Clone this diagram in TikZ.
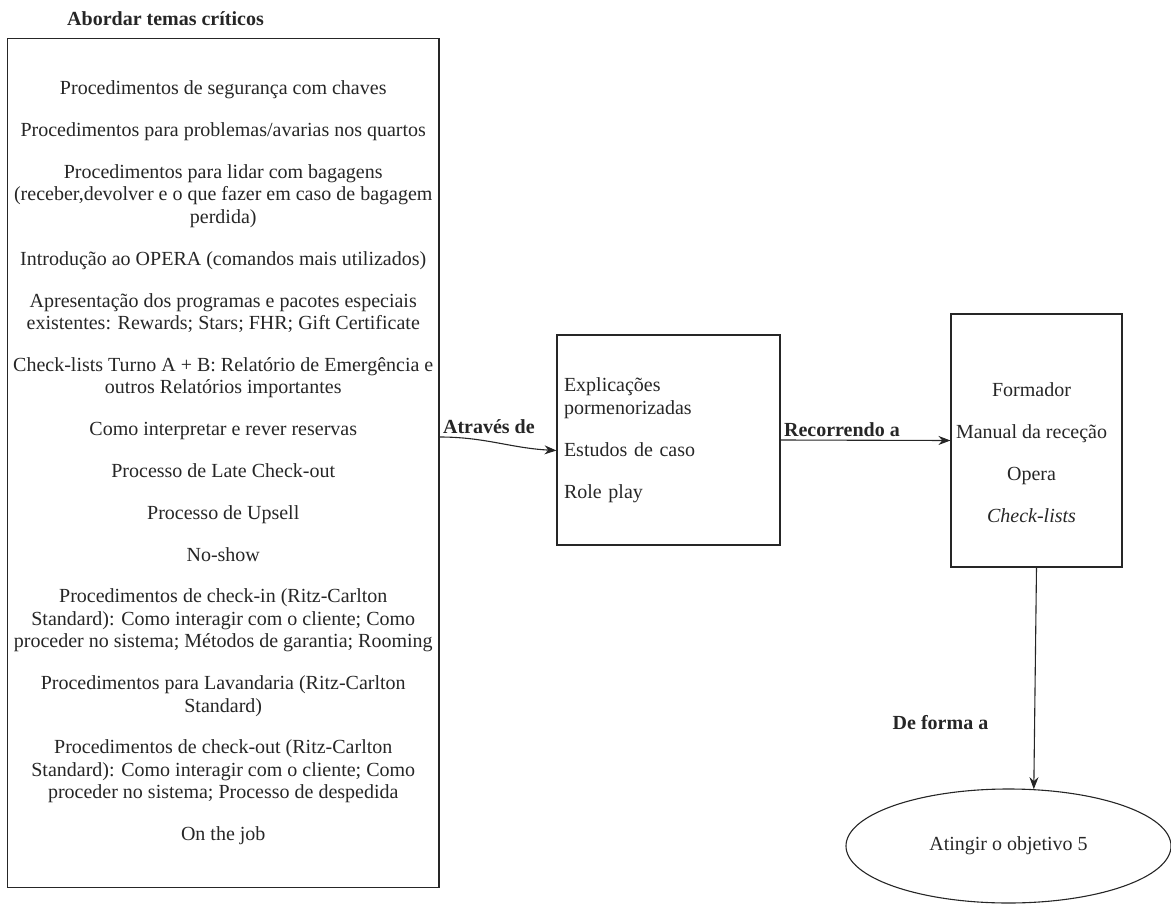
\documentclass[tikz,border=0pt]{standalone}
\usepackage{fontspec}
\setmainfont{Liberation Serif}
\usetikzlibrary{arrows.meta, shapes.geometric, positioning}

\begin{document}
\begin{tikzpicture}[x=1pt, y=-1pt,
  every node/.style={font=\fontsize{20}{22.5}\selectfont, text=black!85},
  box/.style={draw=black!85, line width=1.1pt, inner sep=0pt},
  lbl/.style={font=\fontsize{20}{22.5}\selectfont\bfseries},
  conn/.style={draw=black!85, line width=1.1pt, -{Stealth[length=12pt, width=9pt]}}
]
  \useasboundingbox (0,0) rectangle (1171,905);

  % left box: topics
  \node[lbl] (titulo) at (165.5, 19) {Abordar temas críticos};
  \node[box, minimum width=431.5pt, minimum height=848.5pt, align=center] (temas) at (223.25, 463) {%
    Procedimentos de segurança com chaves\\[19.3pt]
    Procedimentos para problemas/avarias nos quartos\\[19.3pt]
    Procedimentos para lidar com bagagens\\
    (receber,devolver e o que fazer em caso de bagagem\\
    perdida)\\[19.3pt]
    Introdução ao OPERA (comandos mais utilizados)\\[19.3pt]
    Apresentação dos programas e pacotes especiais\\
    existentes: Rewards; Stars; FHR; Gift Certificate\\[19.3pt]
    Check-lists Turno A + B: Relatório de Emergência e\\
    outros Relatórios importantes\\[19.3pt]
    Como interpretar e rever reservas\\[19.3pt]
    Processo de Late Check-out\\[19.3pt]
    Processo de Upsell\\[19.3pt]
    No-show\\[19.3pt]
    Procedimentos de check-in (Ritz-Carlton\\
    Standard): Como interagir com o cliente; Como\\
    proceder no sistema; Métodos de garantia; Rooming\\[19.3pt]
    Procedimentos para Lavandaria (Ritz-Carlton\\
    Standard)\\[19.3pt]
    Procedimentos de check-out (Ritz-Carlton\\
    Standard): Como interagir com o cliente; Como\\
    proceder no sistema; Processo de despedida\\[19.3pt]
    On the job};

  % middle box: methods
  \node[box, minimum width=223pt, minimum height=210pt, text width=209pt, inner xsep=7pt, align=left] (metodos) at (668.5, 440) {%
    Explicações\\
    pormenorizadas\\[19.5pt]
    Estudos de caso\\[19.5pt]
    Role play};

  % right box: resources
  \node[box, minimum width=171pt, minimum height=253pt] (recursos) at (1036.5, 440.5) {};
  \node[align=center] (recursos-txt) at ([xshift=-5pt, yshift=-12pt]recursos.center) {%
    Formador\\[19.5pt]
    Manual da receção\\[19.5pt]
    Opera\\[19.5pt]
    \textit{Check-lists}};

  % goal
  \node[box, ellipse, minimum width=325pt, minimum height=114pt] (objetivo) at (1008.5, 846) {Atingir o objetivo 5};

  % connectors
  \draw[conn] ([yshift=26pt]temas.east) to[out=0, in=177]
    node[lbl, pos=0, anchor=south west, inner sep=3pt] {Através de}
    ([yshift=-10.5pt]metodos.west);
  \draw[conn] (metodos.east) --
    node[lbl, pos=0, anchor=south west, inner sep=3pt] {Recorrendo a}
    (recursos.west);
  \draw[conn] (recursos.south) -- (objetivo.66);
  \node[lbl] (forma) at (940.5, 723) {De forma a};
\end{tikzpicture}
\end{document}
